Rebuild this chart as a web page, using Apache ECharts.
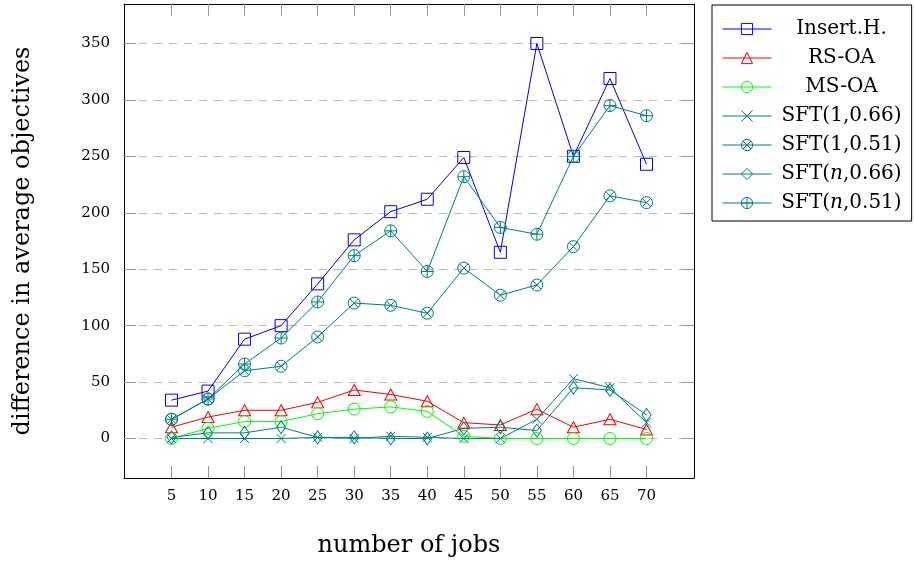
<!DOCTYPE html>
<html>
<head>
<meta charset="utf-8">
<script src="https://cdn.jsdelivr.net/npm/echarts@6/dist/echarts.min.js"></script>
<style>
html,body{margin:0;padding:0;background:#fff;}
#chart{width:914px;height:563px;}
</style>
</head>
<body>
<div id="chart"></div>
<script>
// ---- data ----
const jobs = [5, 10, 15, 20, 25, 30, 35, 40, 45, 50, 55, 60, 65, 70];
const yTicks = [0, 50, 100, 150, 200, 250, 300, 350];
const insertH = [34, 42, 88, 100, 137, 176, 201, 212, 249, 165, 350, 250, 319, 243];
const rsOA    = [10, 19, 25, 25, 32, 43, 39, 33, 14, 12, 26, 10, 17, 8];
const msOA    = [0, 9, 15, 15, 22, 26, 28, 24, 2, 0, 0, 0, 0, 0];
const sft1_066 = [0, 0, 0, 0, 1, 0, 2, 1, 0, 0, 17, 53, 45, 14];
const sft1_051 = [17, 35, 60, 64, 90, 120, 118, 111, 151, 127, 136, 170, 215, 209];
const sftn_066 = [1, 5, 5, 10, 1, 1, 0, 0, 9, 10, 7, 45, 43, 21];
const sftn_051 = [17, 35, 66, 89, 121, 162, 184, 148, 232, 187, 181, 250, 295, 286];
const seriesNames = ['Insert.H.', 'RS-OA', 'MS-OA', 'SFT(1,0.66)', 'SFT(1,0.51)', 'SFT(n,0.66)', 'SFT(n,0.51)'];

// ---- styling ----
const FONT = 'DejaVu Serif';
const LEG_FS = 20;
const LEG_W = 130;
const BLUE = '#0000ff', RED = '#ff0000', GREEN = '#00ff00', TEAL = '#008080';
const CROSS = 'path://M0 0 L10 10 M10 0 L0 10';
const OTIMES = 'path://M0 5 A5 5 0 1 1 10 5 A5 5 0 1 1 0 5 Z M1.46 1.46 L8.54 8.54 M8.54 1.46 L1.46 8.54';
const OPLUS = 'path://M0 5 A5 5 0 1 1 10 5 A5 5 0 1 1 0 5 Z M5 0 L5 10 M0 5 L10 5';

function mk(name, vals, color, symbol, size) {
  return {
    name: name,
    type: 'line',
    data: jobs.map((x, i) => [x, vals[i]]),
    symbol: symbol,
    symbolSize: size,
    showAllSymbol: true,
    lineStyle: {color: color, width: 1},
    itemStyle: {color: 'rgba(255,255,255,0)', borderColor: color, borderWidth: 1},
    emphasis: {disabled: true},
    silent: true
  };
}

const series = [
  mk(seriesNames[0], insertH, BLUE, 'rect', 12),
  mk(seriesNames[1], rsOA, RED, 'triangle', [12, 11]),
  mk(seriesNames[2], msOA, GREEN, 'circle', 12),
  mk(seriesNames[3], sft1_066, TEAL, CROSS, 9),
  mk(seriesNames[4], sft1_051, TEAL, OTIMES, 12),
  mk(seriesNames[5], sftn_066, TEAL, 'diamond', [9, 13]),
  mk(seriesNames[6], sftn_051, TEAL, OPLUS, 12)
];

// legend labels: centred text, italic "n"
const ctx = document.createElement('canvas').getContext('2d');
function tw(t, it) { ctx.font = (it ? 'italic ' : '') + LEG_FS + 'px "' + FONT + '"'; return ctx.measureText(t).width; }
function parts(name) {
  const m = name.match(/^(SFT\()n(,.*)$/);
  return m ? [[m[1], false], ['n', true], [m[2], false]] : [[name, false]];
}
const rich = {
  a: {fontFamily: FONT, fontSize: LEG_FS, lineHeight: 22, color: '#000'},
  i: {fontFamily: FONT, fontSize: LEG_FS, lineHeight: 22, color: '#000', fontStyle: 'italic'}
};
const legendFmt = {};
seriesNames.forEach((nm, k) => {
  const ps = parts(nm);
  const total = ps.reduce((s, p) => s + tw(p[0], p[1]), 0);
  const pad = Math.max(0, (LEG_W - total) / 2);
  rich['p' + k] = {width: pad, fontSize: LEG_FS, lineHeight: 22};
  legendFmt[nm] = '{p' + k + '|}' + ps.map(p => '{' + (p[1] ? 'i' : 'a') + '|' + p[0] + '}').join('');
});

const tickStyle = {color: '#999', width: 1};
const axisLineStyle = {color: '#000', width: 1};

const option = {
  animation: false,
  backgroundColor: '#fff',
  grid: {left: 124, top: 4, width: 570, height: 474, containLabel: false},
  legend: {
    orient: 'vertical',
    left: 712, top: 5,
    padding: [14, 10, 8, 10],
    itemWidth: 49, itemHeight: 14, itemGap: 9,
    backgroundColor: '#fff', borderColor: '#000', borderWidth: 1,
    selectedMode: false,
    data: seriesNames,
    itemStyle: {borderWidth: 1},
    lineStyle: {width: 1},
    formatter: n => legendFmt[n],
    textStyle: {fontFamily: FONT, fontSize: LEG_FS, color: '#000', width: LEG_W, rich: rich}
  },
  xAxis: [
    {
      type: 'value', min: -1.5, max: 76.5, position: 'bottom',
      name: 'number of jobs', nameLocation: 'middle', nameGap: 56,
      nameTextStyle: {fontFamily: FONT, fontSize: 24, color: '#000'},
      axisLine: {show: true, onZero: false, lineStyle: axisLineStyle},
      axisTick: {show: true, inside: true, length: 12, customValues: jobs, lineStyle: tickStyle},
      axisLabel: {show: true, customValues: jobs, margin: 11, fontFamily: FONT, fontSize: 15, color: '#000'},
      splitLine: {show: false}
    },
    {
      type: 'value', min: -1.5, max: 76.5, position: 'top',
      axisLine: {show: true, onZero: false, lineStyle: axisLineStyle},
      axisTick: {show: true, inside: true, length: 12, customValues: jobs, lineStyle: tickStyle},
      axisLabel: {show: false, customValues: jobs},
      splitLine: {show: false}
    }
  ],
  yAxis: [
    {
      type: 'value', min: -35, max: 385, position: 'left',
      name: 'difference in average objectives', nameLocation: 'middle', nameGap: 89, nameRotate: 90,
      nameTextStyle: {fontFamily: FONT, fontSize: 24, color: '#000'},
      axisLine: {show: true, onZero: false, lineStyle: axisLineStyle},
      axisTick: {show: true, inside: true, length: 12, customValues: yTicks, lineStyle: tickStyle},
      axisLabel: {show: true, customValues: yTicks, margin: 14, fontFamily: FONT, fontSize: 15, color: '#000'},
      splitLine: {show: true, lineStyle: {color: '#bbbbbb', width: 1, type: [8, 7]}}
    },
    {
      type: 'value', min: -35, max: 385, position: 'right',
      axisLine: {show: true, onZero: false, lineStyle: axisLineStyle},
      axisTick: {show: true, inside: true, length: 12, customValues: yTicks, lineStyle: tickStyle},
      axisLabel: {show: false, customValues: yTicks},
      splitLine: {show: false}
    }
  ],
  series: series
};

const chart = echarts.init(document.getElementById('chart'), null, {renderer: 'canvas'});
chart.setOption(option);
</script>
</body>
</html>
